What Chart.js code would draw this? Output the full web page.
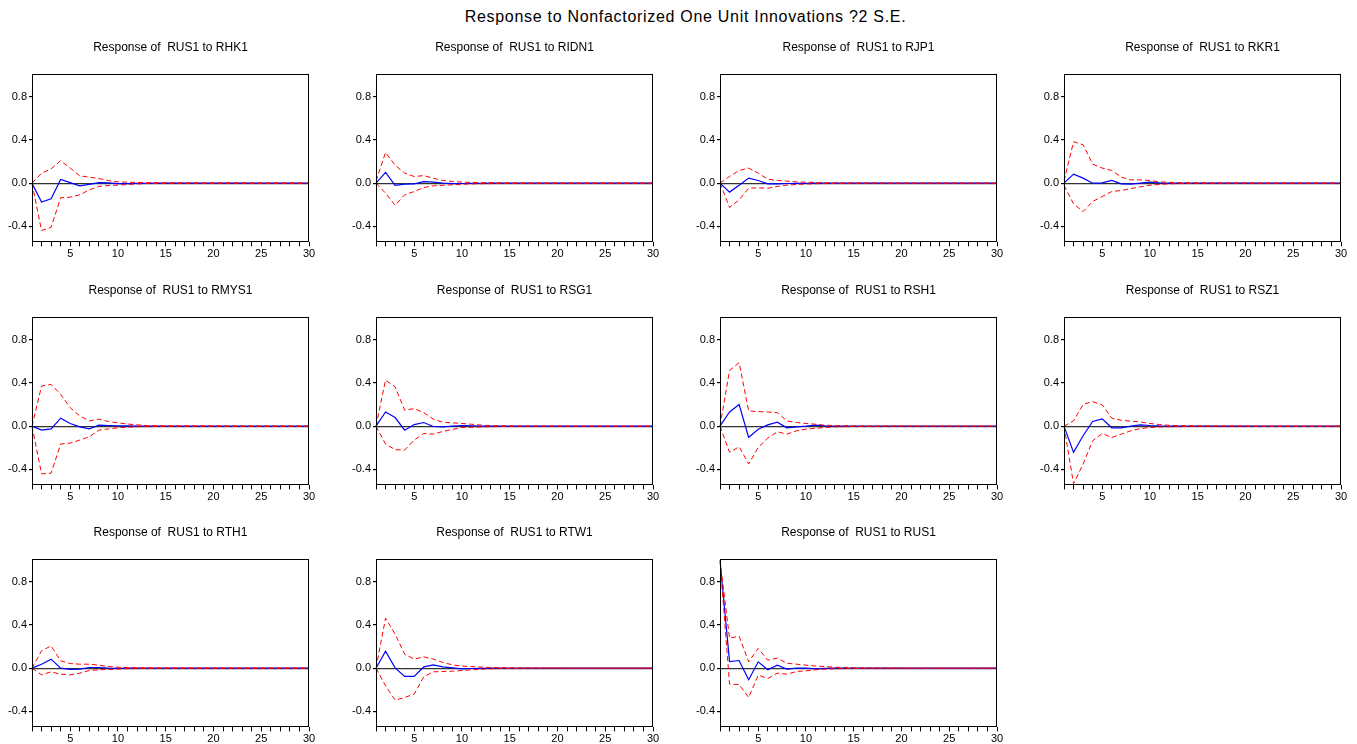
<!DOCTYPE html>
<html lang="en">
<head>
<meta charset="utf-8">
<title>Response of RUS1</title>
<script src="https://cdn.jsdelivr.net/npm/chart.js@4.4.1/dist/chart.umd.min.js"></script>
<style>
    html, body { margin: 0; padding: 0; background: #fff; overflow: hidden; }
    #page { position: relative; width: 1357px; height: 744px; }
    #main-title {
        position: absolute; left: 7px; top: 8px; width: 1357px;
        text-align: center; color: #000; letter-spacing: 0.7px;
        font: 16px "Liberation Sans", Arial, sans-serif;
    }
    .panel { position: absolute; }
</style>
</head>
<body>
<div id="page">
    <div id="main-title">Response to Nonfactorized One Unit Innovations ?2 S.E.</div>
</div>
<script>
// Impulse responses of RUS1 with ±2 S.E. bands, one panel per shock

const periods = [1, 2, 3, 4, 5, 6, 7, 8, 9, 10, 11, 12, 13, 14, 15,
                 16, 17, 18, 19, 20, 21, 22, 23, 24, 25, 26, 27, 28, 29, 30];
const yTicks = [-0.4, 0.0, 0.4, 0.8];

// RHK1
const rhk1Resp = [0, -0.175, -0.145, 0.035, 0.005, -0.025, -0.012, 0.005, 0.003, -0.005,
                  -0.004, -0.002, -0.001, 0, 0, 0, 0, 0, 0, 0,
                  0, 0, 0, 0, 0, 0, 0, 0, 0, 0];
const rhk1Upper = [0, 0.093, 0.133, 0.208, 0.14, 0.068, 0.056, 0.043, 0.025, 0.012,
                   0.009, 0.007, 0.005, 0.004, 0.003, 0.003, 0.002, 0.002, 0.001, 0.001,
                   0.001, 0.001, 0.001, 0, 0, 0, 0, 0, 0, 0];
const rhk1Lower = [0, -0.44, -0.41, -0.136, -0.13, -0.108, -0.062, -0.03, -0.022, -0.018,
                   -0.012, -0.007, -0.004, -0.003, -0.002, -0.002, -0.001, -0.001, -0.001, -0.001,
                   0, 0, 0, 0, 0, 0, 0, 0, 0, 0];

// RIDN1
const ridn1Resp = [0, 0.1, -0.02, -0.008, -0.006, 0.015, 0.01, 0, -0.005, -0.003,
                   -0.002, -0.001, 0, 0, 0, 0, 0, 0, 0, 0,
                   0, 0, 0, 0, 0, 0, 0, 0, 0, 0];
const ridn1Upper = [0.02, 0.285, 0.167, 0.093, 0.062, 0.07, 0.046, 0.025, 0.016, 0.01,
                    0.007, 0.005, 0.004, 0.003, 0.002, 0.002, 0.001, 0.001, 0.001, 0.001,
                    0, 0, 0, 0, 0, 0, 0, 0, 0, 0];
const ridn1Lower = [0, -0.093, -0.205, -0.108, -0.078, -0.04, -0.025, -0.02, -0.015, -0.01,
                    -0.007, -0.005, -0.004, -0.003, -0.002, -0.002, -0.001, -0.001, -0.001, -0.001,
                    0, 0, 0, 0, 0, 0, 0, 0, 0, 0];

// RJP1
const rjp1Resp = [0, -0.083, -0.02, 0.047, 0.025, -0.006, -0.006, -0.003, -0.002, -0.001,
                  0, 0, 0, 0, 0, 0, 0, 0, 0, 0,
                  0, 0, 0, 0, 0, 0, 0, 0, 0, 0];
const rjp1Upper = [0, 0.062, 0.118, 0.14, 0.093, 0.037, 0.025, 0.019, 0.012, 0.009,
                   0.006, 0.004, 0.003, 0.002, 0.002, 0.001, 0.001, 0.001, 0, 0,
                   0, 0, 0, 0, 0, 0, 0, 0, 0, 0];
const rjp1Lower = [0, -0.226, -0.155, -0.047, -0.043, -0.047, -0.031, -0.019, -0.012, -0.008,
                   -0.005, -0.004, -0.003, -0.002, -0.001, -0.001, 0, 0, 0, 0,
                   0, 0, 0, 0, 0, 0, 0, 0, 0, 0];

// RKR1
const rkr1Resp = [0, 0.084, 0.047, 0, 0.003, 0.025, -0.006, -0.009, 0, 0.009,
                  0.003, 0.001, 0, 0, 0, 0, 0, 0, 0, 0,
                  0, 0, 0, 0, 0, 0, 0, 0, 0, 0];
const rkr1Upper = [0.02, 0.385, 0.357, 0.177, 0.14, 0.118, 0.056, 0.031, 0.031, 0.025,
                   0.012, 0.008, 0.005, 0.004, 0.003, 0.002, 0.002, 0.001, 0.001, 0.001,
                   0, 0, 0, 0, 0, 0, 0, 0, 0, 0];
const rkr1Lower = [-0.02, -0.192, -0.264, -0.17, -0.124, -0.078, -0.068, -0.05, -0.034, -0.019,
                   -0.012, -0.006, -0.004, -0.003, -0.002, -0.001, -0.001, 0, 0, 0,
                   0, 0, 0, 0, 0, 0, 0, 0, 0, 0];

// RMYS1
const rmys1Resp = [0, -0.037, -0.025, 0.074, 0.025, -0.006, -0.025, 0.009, 0.006, 0.004,
                   0.002, 0.001, 0, 0, 0, 0, 0, 0, 0, 0,
                   0, 0, 0, 0, 0, 0, 0, 0, 0, 0];
const rmys1Upper = [0, 0.372, 0.388, 0.295, 0.172, 0.095, 0.049, 0.065, 0.043, 0.031,
                    0.02, 0.012, 0.006, 0.004, 0.003, 0.002, 0.002, 0.001, 0.001, 0.001,
                    0, 0, 0, 0, 0, 0, 0, 0, 0, 0];
const rmys1Lower = [0, -0.443, -0.437, -0.166, -0.157, -0.129, -0.098, -0.037, -0.025, -0.015,
                    -0.01, -0.006, -0.004, -0.003, -0.002, -0.001, -0.001, 0, 0, 0,
                    0, 0, 0, 0, 0, 0, 0, 0, 0, 0];

// RSG1
const rsg1Resp = [0, 0.132, 0.08, -0.037, 0.015, 0.034, -0.003, -0.006, 0, 0.006,
                  0.003, 0.001, 0, 0, 0, 0, 0, 0, 0, 0,
                  0, 0, 0, 0, 0, 0, 0, 0, 0, 0];
const rsg1Upper = [0, 0.428, 0.366, 0.148, 0.163, 0.126, 0.065, 0.037, 0.031, 0.025,
                   0.018, 0.01, 0.006, 0.004, 0.003, 0.002, 0.002, 0.001, 0.001, 0.001,
                   0, 0, 0, 0, 0, 0, 0, 0, 0, 0];
const rsg1Lower = [0, -0.166, -0.218, -0.222, -0.129, -0.068, -0.074, -0.049, -0.031, -0.012,
                   -0.01, -0.008, -0.005, -0.003, -0.002, -0.002, -0.001, -0.001, 0, 0,
                   0, 0, 0, 0, 0, 0, 0, 0, 0, 0];

// RSH1
const rsh1Resp = [0, 0.132, 0.2, -0.105, -0.028, 0.012, 0.037, -0.015, -0.006, 0,
                  0.009, 0.003, 0.001, 0, 0, 0, 0, 0, 0, 0,
                  0, 0, 0, 0, 0, 0, 0, 0, 0, 0];
const rsh1Upper = [0, 0.517, 0.59, 0.142, 0.135, 0.132, 0.126, 0.049, 0.034, 0.025,
                   0.018, 0.009, 0.006, 0.004, 0.003, 0.002, 0.002, 0.001, 0.001, 0.001,
                   0, 0, 0, 0, 0, 0, 0, 0, 0, 0];
const rsh1Lower = [0, -0.243, -0.191, -0.351, -0.197, -0.111, -0.052, -0.074, -0.043, -0.028,
                   -0.02, -0.012, -0.007, -0.005, -0.003, -0.002, -0.002, -0.001, -0.001, 0,
                   0, 0, 0, 0, 0, 0, 0, 0, 0, 0];

// RSZ1
const rsz1Resp = [0, -0.243, -0.089, 0.043, 0.068, -0.015, -0.015, 0, 0.012, 0.006,
                  0.002, 0.001, 0, 0, 0, 0, 0, 0, 0, 0,
                  0, 0, 0, 0, 0, 0, 0, 0, 0, 0];
const rsz1Upper = [0, 0.049, 0.203, 0.228, 0.197, 0.074, 0.055, 0.046, 0.04, 0.025,
                   0.015, 0.008, 0.005, 0.004, 0.003, 0.002, 0.002, 0.001, 0.001, 0.001,
                   0, 0, 0, 0, 0, 0, 0, 0, 0, 0];
const rsz1Lower = [0, -0.535, -0.351, -0.135, -0.068, -0.105, -0.074, -0.043, -0.022, -0.012,
                   -0.008, -0.005, -0.004, -0.003, -0.002, -0.001, -0.001, 0, 0, 0,
                   0, 0, 0, 0, 0, 0, 0, 0, 0, 0];

// RTH1
const rth1Resp = [0, 0.037, 0.084, 0, -0.012, -0.009, 0.006, 0.006, 0, -0.001,
                  0, 0, 0, 0, 0, 0, 0, 0, 0, 0,
                  0, 0, 0, 0, 0, 0, 0, 0, 0, 0];
const rth1Upper = [0, 0.161, 0.207, 0.068, 0.043, 0.037, 0.037, 0.028, 0.015, 0.009,
                   0.006, 0.004, 0.003, 0.002, 0.002, 0.001, 0.001, 0, 0, 0,
                   0, 0, 0, 0, 0, 0, 0, 0, 0, 0];
const rth1Lower = [0, -0.062, -0.034, -0.056, -0.062, -0.046, -0.022, -0.015, -0.012, -0.008,
                   -0.005, -0.004, -0.003, -0.002, -0.001, -0.001, 0, 0, 0, 0,
                   0, 0, 0, 0, 0, 0, 0, 0, 0, 0];

// RTW1
const rtw1Resp = [0, 0.158, 0.003, -0.077, -0.077, 0.012, 0.031, 0.012, 0.003, -0.006,
                  -0.003, -0.001, 0, 0, 0, 0, 0, 0, 0, 0,
                  0, 0, 0, 0, 0, 0, 0, 0, 0, 0];
const rtw1Upper = [0, 0.464, 0.316, 0.13, 0.084, 0.105, 0.084, 0.053, 0.031, 0.019,
                   0.015, 0.01, 0.006, 0.004, 0.003, 0.002, 0.002, 0.001, 0.001, 0.001,
                   0, 0, 0, 0, 0, 0, 0, 0, 0, 0];
const rtw1Lower = [0, -0.164, -0.297, -0.272, -0.241, -0.08, -0.034, -0.031, -0.028, -0.022,
                   -0.015, -0.01, -0.006, -0.004, -0.003, -0.002, -0.001, -0.001, 0, 0,
                   0, 0, 0, 0, 0, 0, 0, 0, 0, 0];

// RUS1 (own shock)
const rus1Resp = [1.0, 0.062, 0.071, -0.108, 0.059, -0.015, 0.028, -0.009, 0, 0,
                  -0.006, -0.002, 0, 0, 0, 0, 0, 0, 0, 0,
                  0, 0, 0, 0, 0, 0, 0, 0, 0, 0];
const rus1Upper = [1.0, 0.279, 0.297, 0.059, 0.183, 0.074, 0.093, 0.046, 0.037, 0.028,
                   0.02, 0.015, 0.009, 0.006, 0.004, 0.003, 0.002, 0.002, 0.001, 0.001,
                   0, 0, 0, 0, 0, 0, 0, 0, 0, 0];
const rus1Lower = [1.0, -0.149, -0.152, -0.272, -0.065, -0.096, -0.046, -0.056, -0.031, -0.025,
                   -0.015, -0.009, -0.006, -0.004, -0.003, -0.002, -0.001, -0.001, 0, 0,
                   0, 0, 0, 0, 0, 0, 0, 0, 0, 0];

(function() {
    'use strict';

    const FONT = '"Liberation Sans", Arial, sans-serif';
    Chart.defaults.font.family = FONT;
    Chart.defaults.color = '#000';

    // Grid geometry: plot box origin for each column / row
    const colLefts = [32, 376, 720, 1064];
    const rowTops = [74, 317, 559];
    const PLOT_W = 277;
    const PLOT_H = 168;
    const Y_AXIS_W = 30;
    const TITLE_H = 34.4;
    const X_AXIS_H = 19.6;

    const panels = [
        { shock: 'RHK1',  resp: rhk1Resp,  upper: rhk1Upper,  lower: rhk1Lower },
        { shock: 'RIDN1', resp: ridn1Resp, upper: ridn1Upper, lower: ridn1Lower },
        { shock: 'RJP1',  resp: rjp1Resp,  upper: rjp1Upper,  lower: rjp1Lower },
        { shock: 'RKR1',  resp: rkr1Resp,  upper: rkr1Upper,  lower: rkr1Lower },
        { shock: 'RMYS1', resp: rmys1Resp, upper: rmys1Upper, lower: rmys1Lower },
        { shock: 'RSG1',  resp: rsg1Resp,  upper: rsg1Upper,  lower: rsg1Lower },
        { shock: 'RSH1',  resp: rsh1Resp,  upper: rsh1Upper,  lower: rsh1Lower },
        { shock: 'RSZ1',  resp: rsz1Resp,  upper: rsz1Upper,  lower: rsz1Lower },
        { shock: 'RTH1',  resp: rth1Resp,  upper: rth1Upper,  lower: rth1Lower },
        { shock: 'RTW1',  resp: rtw1Resp,  upper: rtw1Upper,  lower: rtw1Lower },
        { shock: 'RUS1',  resp: rus1Resp,  upper: rus1Upper,  lower: rus1Lower }
    ];

    /**
     * Closed black frame around the plot area
     */
    const framePlugin = {
        id: 'frame',
        afterDatasetsDraw(chart) {
            const { ctx, chartArea: a } = chart;
            const l = Math.round(a.left) + 0.5;
            const t = Math.round(a.top) + 0.5;
            const r = Math.round(a.right) - 0.5;
            const b = Math.round(a.bottom) - 0.5;
            ctx.save();
            ctx.strokeStyle = '#000';
            ctx.lineWidth = 1;
            ctx.strokeRect(l, t, r - l, b - t);
            ctx.restore();
        }
    };

    function bandDataset(data) {
        return {
            data: data,
            borderColor: '#ff0000',
            borderWidth: 1,
            borderDash: [5, 3],
            pointRadius: 0,
            tension: 0,
            fill: false
        };
    }

    function buildPanel(p, idx) {
        const col = idx % 4;
        const row = Math.floor(idx / 4);

        const canvas = document.createElement('canvas');
        const w = Y_AXIS_W * 2 + PLOT_W;
        const h = Math.round(TITLE_H + PLOT_H + X_AXIS_H);
        canvas.width = w;
        canvas.height = h;
        canvas.className = 'panel';
        canvas.style.left = (colLefts[col] - Y_AXIS_W) + 'px';
        canvas.style.top = Math.round(rowTops[row] - TITLE_H) + 'px';
        canvas.style.width = w + 'px';
        canvas.style.height = h + 'px';
        document.getElementById('page').appendChild(canvas);

        new Chart(canvas, {
            type: 'line',
            data: {
                labels: periods,
                datasets: [
                    bandDataset(p.upper),
                    bandDataset(p.lower),
                    {
                        data: p.resp,
                        borderColor: '#0000ff',
                        borderWidth: 1.2,
                        pointRadius: 0,
                        tension: 0,
                        fill: false
                    }
                ]
            },
            options: {
                responsive: false,
                animation: false,
                plugins: {
                    legend: { display: false },
                    tooltip: { enabled: false },
                    title: {
                        display: true,
                        text: 'Response of  RUS1 to ' + p.shock,
                        color: '#000',
                        font: { family: FONT, size: 12, weight: 'normal' },
                        padding: { top: 0, bottom: 20 }
                    }
                },
                scales: {
                    x: {
                        offset: false,
                        border: { display: false },
                        grid: {
                            drawOnChartArea: false,
                            color: '#000',
                            tickLength: 4
                        },
                        ticks: {
                            autoSkip: false,
                            maxRotation: 0,
                            padding: 1,
                            font: { size: 11 },
                            callback: (val, i) => (periods[i] % 5 === 0 ? String(periods[i]) : '')
                        },
                        afterFit: (scale) => { scale.height = X_AXIS_H; }
                    },
                    y: {
                        min: -0.55,
                        max: 1.01,
                        border: { display: false },
                        afterBuildTicks: (scale) => {
                            scale.ticks = yTicks.map(v => ({ value: v }));
                        },
                        grid: {
                            color: (ctx) => (ctx.tick && ctx.tick.value === 0 ? '#333' : 'rgba(0,0,0,0)'),
                            tickColor: '#000',
                            tickLength: 3,
                            lineWidth: 1.2
                        },
                        ticks: {
                            padding: 2,
                            font: { size: 11 },
                            callback: (v) => Number(v).toFixed(1)
                        },
                        afterFit: (scale) => { scale.width = Y_AXIS_W; }
                    },
                    // empty right-hand spacer so the panel title stays centred on the plot
                    yRight: {
                        position: 'right',
                        min: -0.55,
                        max: 1.01,
                        border: { display: false },
                        grid: { display: false },
                        ticks: { display: false },
                        afterFit: (scale) => { scale.width = Y_AXIS_W; }
                    }
                }
            },
            plugins: [framePlugin]
        });
    }

    panels.forEach(buildPanel);
})();
</script>
</body>
</html>
